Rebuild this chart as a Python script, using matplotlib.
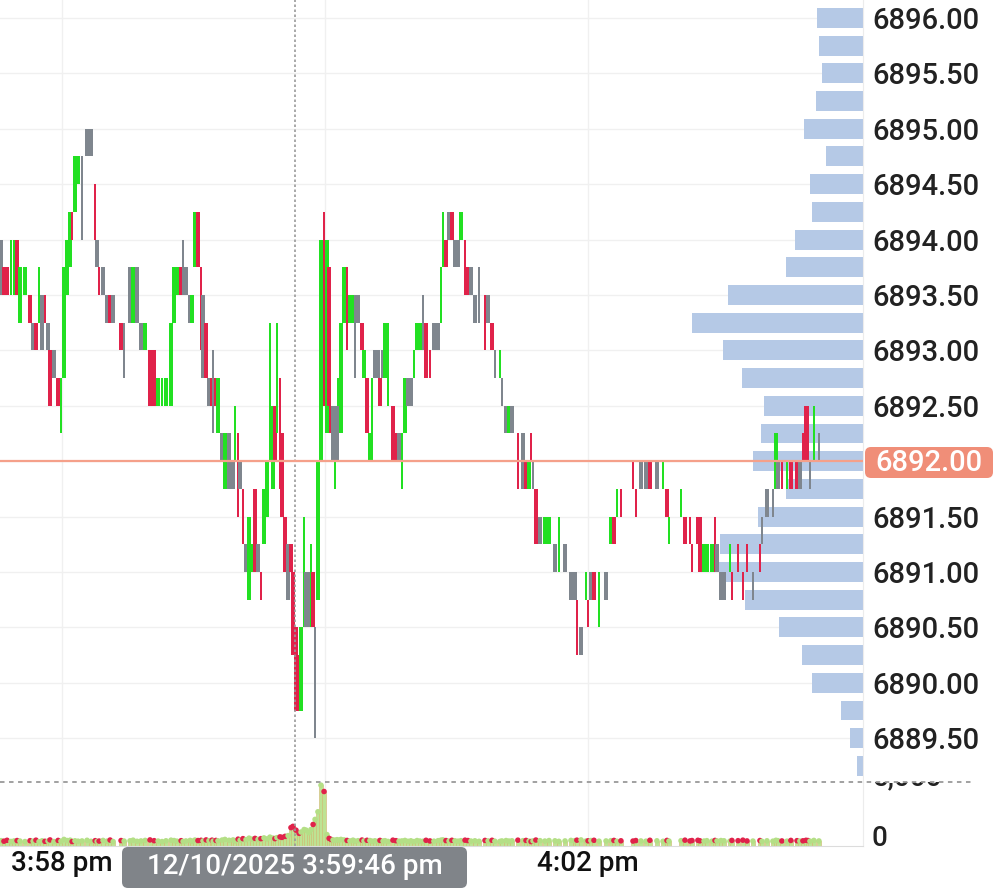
import matplotlib.pyplot as plt
from matplotlib.patches import FancyBboxPatch, Rectangle
from matplotlib.lines import Line2D
from matplotlib.transforms import IdentityTransform

plt.rcParams['font.family'] = ['Roboto', 'DejaVu Sans']
plt.rcParams['font.weight'] = 'medium'

# tick bars: (seconds after 15:58:00, low, high, style, volume)
# style: G/R/K = wide green/red/grey bar, g/r/k = thin bar
seg_1557 = [
    (-27.8, 6893.50, 6894.00, 'K', 420), (-26.5, 6893.50, 6893.75, 'R', 380),
    (-25.1, 6893.50, 6893.75, 'R', 450), (-23.3, 6893.50, 6894.00, 'g', 360),
    (-21.9, 6893.50, 6894.00, 'g', 400), (-20.5, 6893.50, 6894.00, 'R', 430),
    (-19.2, 6893.25, 6893.75, 'G', 390), (-16.9, 6893.50, 6893.75, 'G', 350),
    (-14.6, 6893.25, 6893.50, 'R', 420), (-13.2, 6893.00, 6893.25, 'K', 380),
    (-11.9, 6893.00, 6893.25, 'R', 460), (-10.5, 6893.25, 6893.75, 'g', 340),
    (-9.1, 6893.00, 6893.50, 'K', 410), (-7.8, 6893.25, 6893.50, 'r', 370),
    (-6.4, 6893.00, 6893.25, 'K', 390), (-5.5, 6892.50, 6893.00, 'R', 480),
    (-3.7, 6892.75, 6893.00, 'K', 350), (-1.8, 6892.50, 6892.75, 'R', 440),
    (-0.5, 6892.25, 6892.75, 'g', 380),
]
seg_1558 = [
    (0.9, 6892.75, 6893.75, 'G', 520), (2.3, 6893.50, 6894.00, 'G', 430),
    (3.7, 6893.75, 6894.25, 'G', 460), (4.6, 6894.00, 6894.25, 'r', 350),
    (5.9, 6894.25, 6894.75, 'G', 410), (7.3, 6894.50, 6894.75, 'G', 380),
    (9.1, 6894.00, 6894.75, 'k', 400), (11.4, 6894.75, 6895.00, 'K', 450),
    (13.2, 6894.75, 6895.00, 'K', 370), (15.1, 6894.00, 6894.50, 'r', 420),
    (16.0, 6893.75, 6894.00, 'K', 360), (16.9, 6893.50, 6893.75, 'r', 390),
    (18.7, 6893.50, 6893.75, 'K', 440), (20.5, 6893.25, 6893.50, 'K', 380),
    (21.9, 6893.25, 6893.50, 'R', 470), (23.3, 6893.25, 6893.50, 'K', 350),
    (26.9, 6893.00, 6893.25, 'R', 430), (28.3, 6892.75, 6893.25, 'k', 390),
    (31.0, 6893.25, 6893.75, 'K', 410), (32.4, 6893.25, 6893.75, 'G', 460),
    (34.2, 6893.25, 6893.75, 'K', 370), (36.0, 6893.00, 6893.25, 'K', 400),
    (37.9, 6893.00, 6893.25, 'G', 440), (40.1, 6892.50, 6893.00, 'R', 480),
    (42.0, 6892.50, 6893.00, 'R', 420), (43.8, 6892.50, 6892.75, 'G', 390),
    (45.6, 6892.50, 6892.75, 'g', 350), (47.4, 6892.50, 6892.75, 'G', 410),
    (49.7, 6892.50, 6893.25, 'G', 460), (51.1, 6893.25, 6893.75, 'G', 430),
    (52.4, 6893.50, 6893.75, 'G', 380), (54.3, 6893.50, 6893.75, 'R', 420),
    (55.2, 6893.50, 6894.00, 'k', 360), (56.5, 6893.50, 6893.75, 'K', 400),
    (58.4, 6893.25, 6893.50, 'K', 440), (59.3, 6893.25, 6893.50, 'G', 380),
]
seg_1559 = [
    (60.6, 6893.75, 6894.25, 'G', 470), (62.0, 6893.75, 6894.25, 'R', 430),
    (63.4, 6893.00, 6893.75, 'r', 450), (64.3, 6892.75, 6893.50, 'K', 400),
    (65.7, 6892.75, 6893.25, 'R', 480), (67.0, 6892.50, 6892.75, 'K', 420),
    (68.4, 6892.50, 6892.75, 'R', 460), (68.9, 6892.25, 6893.00, 'k', 380),
    (70.2, 6892.50, 6892.75, 'R', 440), (71.1, 6892.25, 6892.75, 'G', 410),
    (73.0, 6892.00, 6892.25, 'K', 470), (74.3, 6891.75, 6892.25, 'G', 520),
    (76.2, 6891.75, 6892.25, 'K', 450), (78.0, 6891.75, 6892.00, 'K', 480),
    (78.9, 6892.00, 6892.50, 'g', 400), (80.3, 6891.50, 6892.25, 'r', 540),
    (81.2, 6891.75, 6892.00, 'K', 460), (82.5, 6891.25, 6891.75, 'r', 580),
    (83.9, 6891.00, 6891.25, 'K', 500), (85.3, 6890.75, 6891.50, 'G', 620),
    (86.6, 6891.00, 6891.25, 'G', 540), (88.0, 6891.00, 6891.75, 'R', 600),
    (89.4, 6891.00, 6891.25, 'K', 520), (90.7, 6890.75, 6891.00, 'r', 580),
    (92.1, 6891.25, 6891.75, 'G', 640), (93.5, 6891.50, 6892.00, 'G', 560),
    (94.8, 6892.00, 6893.25, 'g', 700), (96.2, 6891.75, 6892.50, 'G', 620),
    (97.1, 6892.00, 6892.50, 'R', 580), (98.0, 6892.25, 6893.25, 'g', 660),
    (99.4, 6891.75, 6892.75, 'r', 720), (100.3, 6891.50, 6892.25, 'R', 680),
    (101.7, 6891.00, 6891.50, 'R', 760), (103.1, 6890.75, 6891.25, 'K', 820),
    (104.4, 6891.00, 6891.25, 'R', 1450), (105.3, 6890.25, 6891.00, 'R', 1550),
    (106.7, 6889.75, 6890.50, 'R', 1250), (108.1, 6889.75, 6890.25, 'R', 1000),
    (109.0, 6889.75, 6890.50, 'G', 1100), (110.4, 6890.50, 6891.50, 'g', 1300),
    (111.3, 6890.50, 6891.00, 'K', 1250), (112.6, 6890.50, 6891.00, 'K', 1050),
    (113.5, 6890.50, 6891.25, 'g', 1300), (114.5, 6890.50, 6891.00, 'R', 1700),
    (115.4, 6889.50, 6890.50, 'k', 2100), (116.7, 6890.75, 6892.00, 'G', 2700),
    (118.1, 6892.00, 6894.00, 'G', 4800), (119.5, 6892.50, 6894.25, 'r', 4300),
]
seg_1600 = [
    (120.8, 6892.25, 6894.00, 'G', 900), (121.8, 6892.50, 6893.75, 'R', 600),
    (122.7, 6892.25, 6892.50, 'R', 520), (123.6, 6892.00, 6892.50, 'K', 480),
    (124.5, 6891.75, 6892.00, 'g', 450), (125.4, 6892.00, 6892.50, 'K', 500),
    (126.3, 6892.50, 6892.75, 'G', 460), (127.2, 6892.25, 6893.25, 'G', 520),
    (128.6, 6893.25, 6893.75, 'G', 480), (130.0, 6893.00, 6893.75, 'r', 440),
    (131.3, 6893.25, 6893.50, 'G', 400), (132.7, 6893.25, 6893.50, 'G', 460),
    (133.6, 6892.75, 6893.50, 'k', 380), (135.0, 6893.25, 6893.50, 'K', 420),
    (136.8, 6893.00, 6893.25, 'R', 470), (137.7, 6892.75, 6893.00, 'G', 400),
    (139.1, 6892.25, 6892.75, 'R', 450), (140.4, 6892.00, 6892.25, 'G', 430),
    (141.4, 6892.00, 6892.75, 'g', 380), (142.7, 6892.75, 6893.00, 'K', 410),
    (144.1, 6892.75, 6893.00, 'K', 370), (145.0, 6892.50, 6892.75, 'R', 440),
    (146.4, 6892.75, 6893.00, 'K', 390), (147.3, 6892.75, 6893.25, 'G', 420),
    (148.7, 6892.50, 6893.25, 'g', 360), (150.9, 6892.00, 6892.50, 'R', 460),
    (152.3, 6892.00, 6892.25, 'R', 420), (153.7, 6892.00, 6892.25, 'K', 380),
    (155.0, 6891.75, 6892.25, 'g', 400), (156.4, 6892.25, 6892.75, 'G', 440),
    (157.8, 6892.50, 6892.75, 'K', 370), (159.1, 6892.50, 6892.75, 'K', 410),
    (160.5, 6892.75, 6893.00, 'g', 350), (161.9, 6893.00, 6893.25, 'G', 430),
    (163.2, 6893.00, 6893.25, 'G', 390), (164.6, 6893.00, 6893.50, 'k', 370),
    (166.0, 6892.75, 6893.25, 'R', 450), (167.8, 6892.75, 6893.00, 'r', 400),
    (169.6, 6893.00, 6893.25, 'K', 380), (171.5, 6893.00, 6893.25, 'K', 420),
    (172.8, 6893.25, 6893.75, 'g', 460), (173.7, 6893.75, 6894.25, 'g', 480),
    (175.1, 6893.75, 6894.00, 'R', 430), (176.5, 6894.00, 6894.25, 'K', 390),
    (177.8, 6894.00, 6894.25, 'R', 450), (179.2, 6893.75, 6894.00, 'K', 410),
]
seg_1601 = [
    (180.6, 6893.75, 6894.00, 'K', 380), (181.9, 6894.00, 6894.25, 'G', 420),
    (183.8, 6893.50, 6894.00, 'r', 460), (185.1, 6893.50, 6893.75, 'R', 430),
    (186.5, 6893.50, 6893.75, 'K', 390), (188.3, 6893.25, 6893.50, 'K', 410),
    (190.2, 6893.25, 6893.75, 'k', 370), (192.9, 6893.00, 6893.50, 'r', 440),
    (194.3, 6893.25, 6893.50, 'K', 400), (196.1, 6893.00, 6893.25, 'R', 450),
    (197.4, 6892.75, 6893.00, 'k', 380), (199.7, 6892.75, 6893.00, 'g', 360),
    (200.6, 6892.50, 6892.75, 'k', 400), (202.5, 6892.25, 6892.50, 'K', 430),
    (203.8, 6892.25, 6892.50, 'G', 390), (205.2, 6892.25, 6892.50, 'K', 410),
    (207.9, 6891.75, 6892.25, 'r', 460), (210.2, 6891.75, 6892.25, 'K', 420),
    (211.6, 6891.75, 6892.00, 'R', 440), (213.0, 6891.75, 6892.00, 'G', 380),
    (213.9, 6892.00, 6892.25, 'r', 350), (214.8, 6891.75, 6892.00, 'k', 400),
    (216.1, 6891.25, 6891.75, 'R', 470), (218.0, 6891.25, 6891.50, 'K', 420),
    (220.2, 6891.25, 6891.50, 'G', 390), (222.1, 6891.25, 6891.50, 'G', 430),
    (224.8, 6891.00, 6891.25, 'K', 410), (226.6, 6891.00, 6891.50, 'g', 370),
    (229.4, 6891.00, 6891.25, 'K', 400), (232.1, 6890.75, 6891.00, 'K', 440),
    (233.9, 6890.75, 6891.00, 'K', 420), (234.8, 6890.25, 6890.75, 'r', 460),
    (236.7, 6890.25, 6890.50, 'K', 480), (238.9, 6890.75, 6891.00, 'g', 390),
]
seg_1602 = [
    (239.9, 6890.50, 6890.75, 'r', 410), (241.2, 6890.75, 6891.00, 'K', 430),
    (242.6, 6890.75, 6891.00, 'R', 450), (244.9, 6890.50, 6891.00, 'g', 380),
    (248.1, 6890.75, 6891.00, 'K', 400), (250.3, 6891.25, 6891.50, 'G', 420),
    (251.7, 6891.25, 6891.50, 'R', 440), (253.1, 6891.50, 6891.75, 'g', 370),
    (254.9, 6891.50, 6891.75, 'r', 410), (260.4, 6891.75, 6892.00, 'r', 390),
    (261.7, 6891.50, 6891.75, 'r', 430), (264.0, 6891.75, 6892.00, 'K', 400),
    (266.3, 6891.75, 6892.00, 'K', 380), (268.1, 6891.75, 6892.00, 'R', 450),
    (271.3, 6891.75, 6892.00, 'K', 410), (274.1, 6891.75, 6892.00, 'g', 370),
    (275.9, 6891.50, 6891.75, 'R', 440), (276.8, 6891.25, 6891.50, 'g', 390),
    (282.3, 6891.50, 6891.75, 'g', 420), (284.1, 6891.25, 6891.50, 'R', 460),
    (286.4, 6891.25, 6891.50, 'r', 400), (287.3, 6891.00, 6891.25, 'r', 430),
    (290.0, 6891.25, 6891.50, 'R', 450), (290.9, 6891.00, 6891.50, 'R', 410),
    (292.8, 6891.00, 6891.25, 'G', 390), (294.1, 6891.00, 6891.25, 'G', 420),
    (296.4, 6891.00, 6891.25, 'G', 380), (297.8, 6891.00, 6891.50, 'r', 440),
    (298.7, 6891.00, 6891.25, 'K', 400),
]
seg_1603 = [
    (300.5, 6890.75, 6891.00, 'K', 430), (301.9, 6890.75, 6891.00, 'K', 410),
    (304.6, 6891.00, 6891.25, 'g', 380), (305.5, 6890.75, 6891.00, 'r', 440),
    (308.3, 6891.00, 6891.25, 'r', 420), (310.5, 6890.75, 6891.00, 'r', 460),
    (312.4, 6891.00, 6891.25, 'r', 400), (315.1, 6890.75, 6891.00, 'k', 390),
    (318.3, 6891.00, 6891.25, 'r', 430), (319.2, 6891.25, 6891.50, 'k', 370),
    (321.5, 6891.50, 6891.75, 'K', 410), (324.2, 6891.50, 6891.75, 'k', 380),
    (325.6, 6891.75, 6892.25, 'G', 450), (326.5, 6891.75, 6892.00, 'K', 420),
    (328.3, 6891.75, 6892.00, 'r', 400), (330.6, 6891.75, 6892.00, 'g', 380),
    (332.4, 6891.75, 6892.00, 'R', 440), (335.2, 6891.75, 6892.00, 'R', 420),
    (336.5, 6891.75, 6892.00, 'K', 390), (337.9, 6892.00, 6892.25, 'r', 410),
    (339.3, 6892.00, 6892.50, 'R', 450), (340.2, 6892.00, 6892.50, 'r', 430),
    (341.1, 6891.75, 6892.00, 'k', 380), (342.9, 6892.00, 6892.50, 'g', 440),
    (345.2, 6892.00, 6892.25, 'k', 400),
]

# volume profile by price
profile_prices = [6896.25, 6896.00, 6895.75, 6895.50, 6895.25, 6895.00, 6894.75,
                  6894.50, 6894.25, 6894.00, 6893.75, 6893.50, 6893.25, 6893.00,
                  6892.75, 6892.50, 6892.25, 6892.00, 6891.75, 6891.50, 6891.25,
                  6891.00, 6890.75, 6890.50, 6890.25, 6890.00, 6889.75, 6889.50,
                  6889.25]
profile_volumes = [57, 46, 44, 41, 47, 59, 37, 53, 51, 68, 77, 135, 171, 140,
                   121, 99, 102, 110, 77, 105, 143, 144, 118, 84, 61, 51, 22, 13, 6]

last_price = 6892.00
cursor_time = 106.3
price_ticks = [6889.5 + 0.5 * i for i in range(14)]
grid_times = [0, 120, 240]
time_ticks = [0, 240]
time_labels = ['3:58 pm', '4:02 pm']

green = '#22e022'
red = '#e0224a'
grey = '#7f868e'
colours = {'g': green, 'r': red, 'k': grey}

candles = seg_1557 + seg_1558 + seg_1559 + seg_1600 + seg_1601 + seg_1602 + seg_1603
t = [c[0] for c in candles]
lo = [c[1] for c in candles]
hi = [c[2] for c in candles]
sty = [c[3] for c in candles]
vol = [c[4] for c in candles]
col = [colours[s.lower()] for s in sty]
wid = [2.0 if s.isupper() else 0.95 for s in sty]

W, H = 995, 890
fig = plt.figure(figsize=(W / 100, H / 100), dpi=100)
ax = fig.add_axes([0, 1 - 782 / H, 863 / W, 782 / H])
axv = fig.add_axes([0, 1 - 846 / H, 863 / W, 64 / H], sharex=ax)

# profile lives in a twin axes drawn underneath the bars
axp = ax.twiny()
axp.set_zorder(0)
ax.set_zorder(1)
ax.patch.set_visible(False)
for p in price_ticks:
    axp.axhline(p, color='#f0f0f0', lw=1, zorder=0)
axp.barh(profile_prices, profile_volumes, height=0.18, color='#b5c9e6', zorder=1)
axp.set_xlim(863, 0)
axp.axis('off')

for x in grid_times:
    ax.axvline(x, color='#f0f0f0', lw=1, zorder=0)
    axv.axvline(x, color='#f0f0f0', lw=1, zorder=0)

hts = [h - l for h, l in zip(hi, lo)]
ax.bar(t, hts, bottom=lo, width=wid, color=col, linewidth=0, zorder=2)
ax.axvline(cursor_time, color='#9a9a9a', ls=(0, (1.5, 1.5)), lw=1.2, zorder=5)
ax.axhline(last_price, color='#f5a08a', lw=1.6, zorder=6)

ax.set_xlim(-28.3, 365.3)
ax.set_ylim(6889.105, 6896.162)
axp.set_ylim(6889.105, 6896.162)
ax.yaxis.tick_right()
ax.set_yticks(price_ticks)
# the last-price tag sits where the 6892.00 label would be
ax.set_yticklabels(['' if p == last_price else f'{p:.2f}' for p in price_ticks])
ax.tick_params(axis='y', length=0, pad=7, labelsize=21, labelcolor='#222222')
ax.tick_params(axis='x', length=0, labelbottom=False)
for s in ['top', 'left', 'bottom']:
    ax.spines[s].set_visible(False)
ax.spines['right'].set_color('#ececec')

# volume panel
cap = [red if s.lower() == 'r' else '#b4df86' for s in sty]
axv.bar(t, vol, width=1.6, color='#bde393', edgecolor='#d4b46e', linewidth=0.4, zorder=2)
axv.scatter(t, vol, s=16, c=cap, linewidths=0, zorder=3)
axv.axvline(cursor_time, color='#9a9a9a', ls=(0, (1.5, 1.5)), lw=1.2, zorder=5)
axv.set_ylim(0, 5050)
axv.set_yticks([])
axv.set_xticks(time_ticks)
axv.set_xticklabels(time_labels)
axv.tick_params(axis='x', length=0, pad=3, labelsize=20, labelcolor='#111111')
for s in ['top', 'left']:
    axv.spines[s].set_visible(False)
axv.spines['right'].set_color('#ececec')
axv.spines['bottom'].set_color('#dcdcdc')

# volume scale labels, the upper one tucked under the price panel
fig.text(872 / W, 1 - 838 / H, '0', fontsize=20, color='#222222', va='center')
fig.text(872 / W, 1 - 778 / H, '5,000', fontsize=20, color='#222222', va='center')
fig.add_artist(Rectangle((864, H - 782), 131, 30, transform=IdentityTransform(),
                         facecolor='white', edgecolor='none', zorder=4))
fig.add_artist(Line2D([0, 975], [H - 782, H - 782], transform=IdentityTransform(),
                      color='#9a9a9a', lw=1.3, ls=(0, (2.5, 2.5)), zorder=5))

# last price tag
fig.add_artist(FancyBboxPatch((865, H - 478), 128, 31, transform=IdentityTransform(),
                              boxstyle='round,pad=0,rounding_size=6',
                              facecolor='#f08e78', edgecolor='none', zorder=6))
fig.text(929 / W, 1 - 463 / H, f'{last_price:.2f}', fontsize=21, color='white',
         ha='center', va='center', zorder=7)

# cursor time tag
fig.add_artist(FancyBboxPatch((122, H - 888), 345, 41, transform=IdentityTransform(),
                              boxstyle='round,pad=0,rounding_size=6',
                              facecolor='#808489', edgecolor='none', zorder=6))
fig.text(295 / W, 1 - 867 / H, '12/10/2025 3:59:46 pm', fontsize=20, color='white',
         ha='center', va='center', zorder=7)

fig.savefig('out.png', dpi=100)
